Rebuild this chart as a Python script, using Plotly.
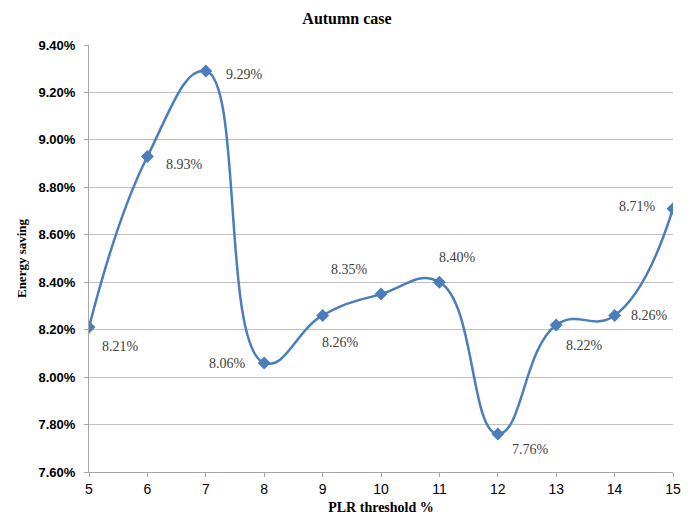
import plotly.graph_objects as go

plr = [5, 6, 7, 8, 9, 10, 11, 12, 13, 14, 15]
saving = [0.0821, 0.0893, 0.0929, 0.0806, 0.0826, 0.0835, 0.0840, 0.0776, 0.0822, 0.0826, 0.0871]
labels = ["8.21%", "8.93%", "9.29%", "8.06%", "8.26%", "8.35%", "8.40%", "7.76%", "8.22%", "8.26%", "8.71%"]
label_dx = [31, 37, 39, -37, 18, -32, 18, 33, 28, 35, -36]
label_dy = [-19, -8, -3, -1, -27, 25, 25, -15, -21, 0, 2]

serif = "Liberation Serif, Times New Roman, serif"
blue = "#4A7EBB"
fig = go.Figure()
fig.add_trace(go.Scatter(
    x=plr, y=saving, mode="lines+markers",
    line=dict(color=blue, width=2.5, shape="spline", smoothing=1.3),
    marker=dict(symbol="diamond", size=10, color=blue),
    showlegend=False, hoverinfo="skip",
))
for x, y, t, dx, dy in zip(plr, saving, labels, label_dx, label_dy):
    fig.add_annotation(x=x, y=y, text=t, showarrow=False, xshift=dx, yshift=dy,
                       font=dict(family=serif, size=14, color="#404040"))

fig.update_layout(
    width=694, height=515,
    margin=dict(l=89, r=21, t=45, b=43, autoexpand=False),
    paper_bgcolor="white", plot_bgcolor="white",
    title=dict(text="<b>Autumn case</b>", x=0.5, xanchor="center", y=1 - 18/515, yanchor="middle",
               font=dict(family=serif, size=16, color="black")),
    xaxis=dict(range=[5, 15], tickvals=plr, showgrid=False, showline=True, linecolor="#A6A6A6",
               linewidth=1, ticks="outside", ticklen=4, tickcolor="#A6A6A6", automargin=False,
               tickfont=dict(family="Liberation Sans", size=14, color="black"),
               title=dict(text="<b>PLR threshold %</b>", standoff=6,
                          font=dict(family=serif, size=14, color="black")),
               zeroline=False),
    yaxis=dict(range=[0.076, 0.094], dtick=0.002, tickformat=".2%", showgrid=True,
               gridcolor="#BFBFBF", gridwidth=1, showline=True, linecolor="#A6A6A6",
               ticks="outside", ticklen=4, tickcolor="#A6A6A6", ticklabelstandoff=6,
               automargin=False, tickfont=dict(family="Liberation Sans", size=13, color="black"),
               title=dict(text="<b>Energy saving</b>", standoff=8,
                          font=dict(family=serif, size=13, color="black")),
               zeroline=False),
)
fig.update_xaxes(tickprefix="<b>", ticksuffix="</b>")
fig.update_yaxes(tickprefix="<b>", ticksuffix="</b>")
fig.write_html("out.html")
